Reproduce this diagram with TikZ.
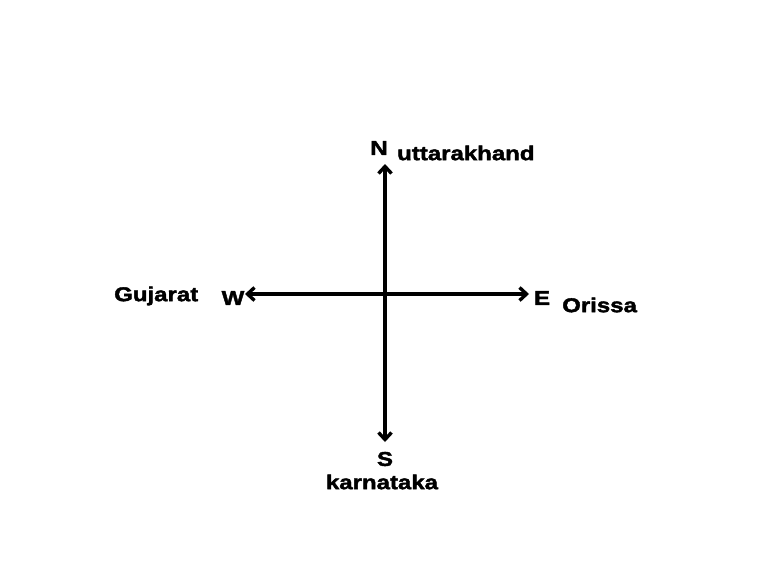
\documentclass[tikz,border=0pt]{standalone}
\usepackage{fontspec}
\newfontfamily\lblfont{Liberation Sans Bold}[FakeStretch=1.2, FakeBold=2]
\usetikzlibrary{arrows.meta}
\begin{document}
\begin{tikzpicture}[x=1pt,y=-1pt,
  lbl/.style={font=\fontsize{20}{20}\lblfont, inner sep=0pt},
  axis/.style={line width=3.4pt, {Straight Barb[length=7pt,width=13pt,line width=3.4pt]}-{Straight Barb[length=7pt,width=13pt,line width=3.4pt]}}]
\useasboundingbox[fill=white] (0,0) rectangle (762,584);
\coordinate (nt) at (385,164);
\coordinate (sb) at (385,442);
\coordinate (wl) at (245,294);
\coordinate (er) at (529,294);
\draw[axis] (wl) -- (er);
\draw[axis] (nt) -- (sb);
\node[lbl] (n) at (379,148) {N};
\node[lbl, anchor=west] (ut) at (397,153) {uttarakhand};
\node[lbl] (w) at (233,298) {W};
\node[lbl, anchor=west] (gu) at (114,296) {Gujarat};
\node[lbl] (e) at (542,298) {E};
\node[lbl, anchor=west] (or) at (562,305) {Orissa};
\node[lbl] (s) at (385,459) {S};
\node[lbl] (ka) at (382,482) {karnataka};
\end{tikzpicture}
\end{document}
